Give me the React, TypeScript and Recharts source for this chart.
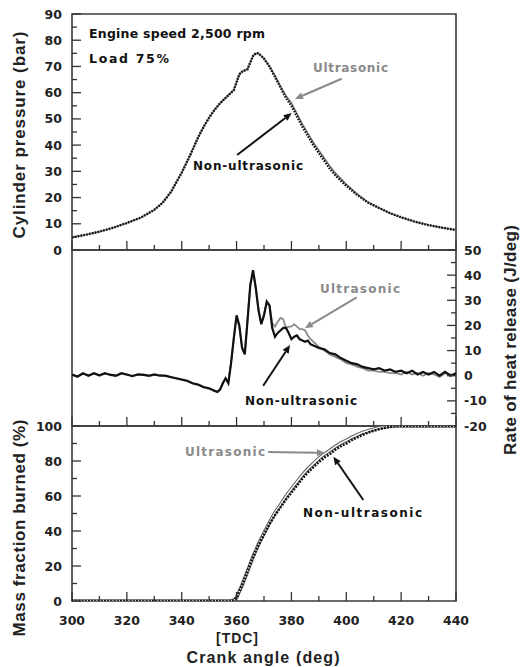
import React from 'react';
import { LineChart, Line, XAxis, YAxis, ReferenceArea, ReferenceLine } from 'recharts';

// ---------- data ----------
const pressureAngles = [300,305,310,315,320,325,330,333,336,340,343,346,348,350,352,354,356,358,359,360,361,362,363,364,365,366,367,368,369,370,372,374,376,378,380,382,384,386,388,390,392,394,396,398,400,404,408,412,416,420,425,430,435,440];
const pressureNonUltra = [4.8,5.8,7,8.5,10.3,12.3,15.3,18,22,29.5,36,43,47,50.5,53.5,56,58,60,61,64,67,68,68.5,69,71.5,74,75,75,74,73,70,66,62,58,55,51,47,43.5,40,37,34,31,28.5,26.5,24.5,21,18,16,14,12.5,10.8,9.5,8.5,7.6];
const pressureUltra = [4.8,5.8,7,8.5,10.3,12.3,15.3,18,22,29.5,36,43,47,50.5,53.5,56,58,60,61,64,67,68,68.5,69,71.5,74,75,75,74,73,70,66.5,62.5,58.8,56,52,48,44.5,41,38,35,32,29.3,27.2,25,21.3,18.2,16,14,12.5,10.8,9.5,8.5,7.6];

const hrrAngles = [300,302,304,306,308,310,312,314,316,318,320,322,324,326,328,330,332,334,336,338,340,342,344,346,348,350,352,353,354,355,356,357,358,359,360,361,362,363,364,365,366,367,368,369,370,371,372,373,374,375,376,377,378,379,380,381,382,383,384,385,386,387,388,390,392,394,396,398,400,402,404,406,408,410,412,414,416,418,420,422,424,426,428,430,432,434,436,438,440];
const hrrNonUltra = [0.5,-0.3,1,0,1,0.2,1,0.3,0,1,0.5,-0.2,0.5,0.3,0,0.5,0,0,-0.5,-1,-1.5,-2,-3,-3.5,-4.5,-5,-6,-6.5,-5.5,-3,-1,-3,5,15,24,20,11,8.5,22,36,42,35,26,20.5,24,29.5,28,19,15.5,17,18,19,19,17,14.5,15.5,16,14.5,14,13.5,14,12.5,12,11,10.5,9,8.5,7,6,5,4.5,3.5,3,2.5,3,2,2.5,1.5,2,1,2,0.5,1.5,0.5,1.5,0,1.5,0,1];
const hrrUltra = [0.3,-0.5,0.8,0.2,0.8,0,0.8,0.5,-0.2,0.8,0.3,0,0.3,0.5,-0.2,0.3,0.2,-0.2,-0.7,-1.2,-1.7,-2.2,-3.2,-3.7,-4.7,-5.2,-6.2,-6.3,-5.3,-2.8,-1.2,-2.5,5.5,15,23.5,19.5,11.5,9,22.5,36,41.5,34.5,26.5,21,24.5,29,28,21,19.5,21.5,23,22.5,19,19.5,19.5,20.5,19.5,18.5,18.5,18,16,14.5,13.5,11.5,10,8.5,7.5,6.5,5,4.5,3.5,3,2,2,1.5,1.5,1,1,0.5,1.5,0.5,1,0,1,0.5,-0.5,1,0.5,0];

const mfbAngles = [300,305,310,315,320,325,330,335,340,345,350,355,358,359,360,362,364,366,368,370,372,374,376,378,380,382,384,386,388,390,392,394,396,398,400,402,404,406,408,410,412,414,416,418,420,425,430,435,440];
const mfbNonUltra = [0,0,0,0,0,0,0,0,0,0,0,0,0,0.5,2,9,17,25,32,38,44,49,53.5,58,62,66,70,73.5,76.5,79.5,82,84,86.5,88.5,90,92,93.5,95,96.3,97.3,98.2,99,99.5,100,100,100,100,100,100];
const mfbUltra = [0,0,0,0,0,0,0,0,0,0,0,0,0,0.5,2,9,17,25.3,32.5,38.8,45,50.5,55,59.8,64,68,72,75.5,78.5,81.5,84,86,88.3,90.2,91.8,93.5,95,96.3,97.3,98.2,99,99.5,100,100,100,100,100,100,100];

const xTicks = [300,310,320,330,340,350,360,370,380,390,400,410,420,430,440];
const pressureTicks = [0,5,10,15,20,25,30,35,40,45,50,55,60,65,70,75,80,85,90];
const hrrTicks = [-20,-15,-10,-5,0,5,10,15,20,25,30,35,40,45,50];
const mfbTicks = [0,10,20,30,40,50,60,70,80,90,100];

const pressureData = pressureAngles.map((a, i) => ({ angle: a, non: pressureNonUltra[i], ultra: pressureUltra[i] }));
const hrrData = hrrAngles.map((a, i) => ({ angle: a, non: hrrNonUltra[i], ultra: hrrUltra[i] }));
const mfbData = mfbAngles.map((a, i) => ({ angle: a, non: mfbNonUltra[i], ultra: mfbUltra[i] }));

// ---------- styles ----------
const TICK_FONT = '"DejaVu Sans", sans-serif';
const LABEL_FONT = '"Liberation Sans", Arial, sans-serif';
const AXIS_COLOR = '#333';
const GREY = '#8a8a8a';
const BLACK = '#111';

const makeXTick = (showLabel: boolean) => (props: any) => {
  const { x, y, payload } = props;
  const v = payload.value;
  const major = v % 20 === 0;
  return (
    <g>
      <line x1={x} y1={y} x2={x} y2={y - (major ? 9 : 5)} stroke={AXIS_COLOR} strokeWidth={1.3} />
      {showLabel && major && (
        <text x={x} y={y + 24} textAnchor="middle" fontFamily={TICK_FONT} fontWeight="bold" fontSize={12.5} fill="#222">{v}</text>
      )}
    </g>
  );
};

const makeYTick = (side: 'left' | 'right', step: number) => (props: any) => {
  const { x, y, payload } = props;
  const v = payload.value;
  const major = v % step === 0;
  const dir = side === 'left' ? 1 : -1;
  return (
    <g>
      <line x1={x} y1={y} x2={x + dir * (major ? 9 : 5)} y2={y} stroke={AXIS_COLOR} strokeWidth={1.3} />
      {major && (
        <text x={side === 'left' ? x - 10 : x + 8} y={y} dy="0.36em" textAnchor={side === 'left' ? 'end' : 'start'} fontFamily={TICK_FONT} fontWeight="bold" fontSize={12.5} fill="#222">{v}</text>
      )}
    </g>
  );
};

const arrowShape = (color: string) => (p: any) => {
  const { x1, y1, x2, y2 } = p;
  if ([x1, y1, x2, y2].some((n) => typeof n !== 'number' || isNaN(n))) return <g />;
  const ang = Math.atan2(y2 - y1, x2 - x1);
  const L = 8, W = 3.5;
  const c = Math.cos(ang), s = Math.sin(ang);
  const bx = x2 - L * c, by = y2 - L * s;
  const pts = `${x2},${y2} ${bx - W * s},${by + W * c} ${bx + W * s},${by - W * c}`;
  return (
    <g>
      <line x1={x1} y1={y1} x2={bx} y2={by} stroke={color} strokeWidth={2} />
      <polygon points={pts} fill={color} />
    </g>
  );
};

const frame = (yId: any = 0) => (
  <ReferenceArea x1={300} x2={440} yAxisId={yId} fill="none" stroke="#3a3a3a" strokeWidth={1.6} fillOpacity={0} ifOverflow="visible" />
);

const W = 521;

export default function App() {
  return (
    <div style={{ position: 'absolute', left: 0, top: 0, width: W, height: 667, background: '#fff' }}>
      {/* Top: cylinder pressure */}
      <div style={{ position: 'absolute', left: 0, top: 0 }}>
        <LineChart width={W} height={262} data={pressureData} margin={{ top: 14, right: 65, bottom: 0, left: 32 }}>
          <XAxis dataKey="angle" type="number" domain={[300, 440]} ticks={xTicks} interval={0} height={12}
            axisLine={false} tickLine={false} tickSize={0} tickMargin={0} tick={makeXTick(false)} allowDataOverflow />
          <YAxis type="number" domain={[0, 90]} ticks={pressureTicks} interval={0} width={40}
            axisLine={false} tickLine={false} tickSize={0} tickMargin={0} tick={makeYTick('left', 10)} allowDataOverflow />
          {frame()}
          <Line dataKey="ultra" stroke="#777" strokeWidth={1.6} dot={false} isAnimationActive={false} type="linear" />
          <Line dataKey="non" stroke={BLACK} strokeWidth={2.4} strokeDasharray="1.6 1.3" dot={false} isAnimationActive={false} type="linear" />
          <ReferenceLine segment={[{ x: 398.3, y: 65.3 }, { x: 381.3, y: 57.6 }]} shape={arrowShape(GREY)} />
          <ReferenceLine segment={[{ x: 360.2, y: 36.2 }, { x: 380.1, y: 52.2 }]} shape={arrowShape(BLACK)} />
        </LineChart>
      </div>

      {/* Middle: rate of heat release */}
      <div style={{ position: 'absolute', left: 0, top: 240 }}>
        <LineChart width={W} height={200} data={hrrData} margin={{ top: 10, right: 35, bottom: 0, left: 72 }}>
          <XAxis dataKey="angle" type="number" domain={[300, 440]} ticks={xTicks} interval={0} height={14}
            axisLine={false} tickLine={false} tickSize={0} tickMargin={0} tick={makeXTick(false)} allowDataOverflow />
          <YAxis orientation="right" type="number" domain={[-20, 50]} ticks={hrrTicks} interval={0} width={30}
            axisLine={false} tickLine={false} tickSize={0} tickMargin={0} tick={makeYTick('right', 10)} allowDataOverflow />
          {frame()}
          <Line dataKey="ultra" stroke={GREY} strokeWidth={1.8} dot={false} isAnimationActive={false} type="linear" />
          <Line dataKey="non" stroke={BLACK} strokeWidth={2.2} dot={false} isAnimationActive={false} type="linear" />
          <ReferenceLine segment={[{ x: 403.8, y: 31.2 }, { x: 384.9, y: 18.9 }]} shape={arrowShape(GREY)} />
          <ReferenceLine segment={[{ x: 369.7, y: -4 }, { x: 379.5, y: 12.2 }]} shape={arrowShape(BLACK)} />
        </LineChart>
      </div>

      {/* Bottom: mass fraction burned */}
      <div style={{ position: 'absolute', left: 0, top: 416 }}>
        <LineChart width={W} height={251} data={mfbData} margin={{ top: 10, right: 65, bottom: 0, left: 32 }}>
          <XAxis dataKey="angle" type="number" domain={[300, 440]} ticks={xTicks} interval={0} height={66}
            axisLine={false} tickLine={false} tickSize={0} tickMargin={0} tick={makeXTick(true)} allowDataOverflow />
          <YAxis type="number" domain={[0, 100]} ticks={mfbTicks} interval={0} width={40}
            axisLine={false} tickLine={false} tickSize={0} tickMargin={0} tick={makeYTick('left', 20)} allowDataOverflow />
          {frame()}
          <Line dataKey="ultra" stroke="#666" strokeWidth={3.6} dot={false} isAnimationActive={false} type="linear" />
          <Line dataKey="ultra" stroke="#fff" strokeWidth={1.4} dot={false} isAnimationActive={false} type="linear" />
          <Line dataKey="non" stroke={BLACK} strokeWidth={2.6} strokeDasharray="2 1.2" dot={false} isAnimationActive={false} type="linear" />
          <ReferenceLine segment={[{ x: 371.5, y: 85.1 }, { x: 392.2, y: 84.7 }]} shape={arrowShape(GREY)} />
          <ReferenceLine segment={[{ x: 406.2, y: 57.7 }, { x: 395.3, y: 82.5 }]} shape={arrowShape(BLACK)} />
        </LineChart>
      </div>

      {/* Text overlay */}
      <svg width={W} height={667} style={{ position: 'absolute', left: 0, top: 0, pointerEvents: 'none' }}>
        <text x={89} y={38} fontFamily={TICK_FONT} fontWeight="bold" fontSize={12.5} textLength={176} lengthAdjust="spacing" fill="#111">Engine speed 2,500 rpm</text>
        <text x={89} y={63} fontFamily={TICK_FONT} fontWeight="bold" fontSize={12.5} textLength={80} lengthAdjust="spacing" fill="#111">Load 75%</text>

        <text x={313} y={72} fontFamily={TICK_FONT} fontWeight="bold" fontSize={12} textLength={75} lengthAdjust="spacing" fill={GREY}>Ultrasonic</text>
        <text x={193} y={170} fontFamily={TICK_FONT} fontWeight="bold" fontSize={12} textLength={110} lengthAdjust="spacing" fill="#111">Non-ultrasonic</text>

        <text x={320} y={293} fontFamily={TICK_FONT} fontWeight="bold" fontSize={12} textLength={80} lengthAdjust="spacing" fill={GREY}>Ultrasonic</text>
        <text x={245} y={405} fontFamily={TICK_FONT} fontWeight="bold" fontSize={12} textLength={112} lengthAdjust="spacing" fill="#111">Non-ultrasonic</text>

        <text x={185} y={456} fontFamily={TICK_FONT} fontWeight="bold" fontSize={12} textLength={80} lengthAdjust="spacing" fill={GREY}>Ultrasonic</text>
        <text x={303} y={517} fontFamily={TICK_FONT} fontWeight="bold" fontSize={12} textLength={119} lengthAdjust="spacing" fill="#111">Non-ultrasonic</text>

        <text transform="translate(25,135) rotate(-90)" textAnchor="middle" fontFamily={LABEL_FONT} fontWeight="bold" fontSize={17} textLength={207} lengthAdjust="spacing" fill="#222">Cylinder pressure  (bar)</text>
        <text transform="translate(25,528) rotate(-90)" textAnchor="middle" fontFamily={LABEL_FONT} fontWeight="bold" fontSize={17} textLength={217} lengthAdjust="spacing" fill="#222">Mass fraction burned (%)</text>
        <text transform="translate(516,340) rotate(-90)" textAnchor="middle" fontFamily={LABEL_FONT} fontWeight="bold" fontSize={17} textLength={230} lengthAdjust="spacing" fill="#222">Rate of heat release  (J/deg)</text>

        <text x={237} y={643} textAnchor="middle" fontFamily={LABEL_FONT} fontWeight="bold" fontSize={14} textLength={42} lengthAdjust="spacing" fill="#222">[TDC]</text>
        <text x={263} y={663} textAnchor="middle" fontFamily={LABEL_FONT} fontWeight="bold" fontSize={16} textLength={153} lengthAdjust="spacing" fill="#222">Crank angle  (deg)</text>
      </svg>
    </div>
  );
}
